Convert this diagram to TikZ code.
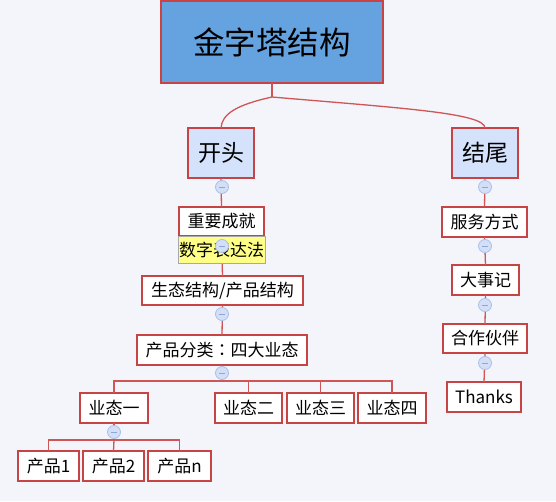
\documentclass[tikz,border=0pt]{standalone}
\usepackage{fontspec}
\setmainfont{Noto Sans CJK SC}
\newfontfamily\tcfont{Noto Sans CJK TC}
\begin{document}
\begin{tikzpicture}[x=1pt,y=-1pt,
  every node/.style={inner sep=0pt,outer sep=0pt},
  box/.style={draw=bordred,line width=1.4pt,fill=white,font=\fontsize{17}{20}\selectfont,text=black},
  lvone/.style={box,fill=lvfill,font=\fontsize{23}{26}\selectfont},
  rootbox/.style={box,fill=rootfill,font=\fontsize{31.5}{36}\selectfont},
  notebox/.style={draw=notegray,line width=1pt,fill=noteyellow,font=\fontsize{17}{20}\selectfont},
  conn/.style={draw=connred,line width=1.3pt},
  collapse/.style={circle,draw=colborder,fill=colfill,line width=0.8pt,minimum size=13pt},
  minus/.style={draw=colminus,line width=0.8pt}]
\definecolor{bgcol}{HTML}{F4F5FA}
\definecolor{bordred}{HTML}{C84444}
\definecolor{connred}{HTML}{D05555}
\definecolor{rootfill}{HTML}{64A2E0}
\definecolor{lvfill}{HTML}{D5E2FC}
\definecolor{notegray}{HTML}{A8A8A8}
\definecolor{noteyellow}{HTML}{FFFF88}
\definecolor{colborder}{HTML}{A9BFEB}
\definecolor{colfill}{HTML}{D3DFF7}
\definecolor{colminus}{HTML}{8FA6D6}
\useasboundingbox (0,0) rectangle (556,501);
\fill[bgcol] (0,0) rectangle (556,501);

% nodes
\node[rootbox,minimum width=222pt,minimum height=82pt] (root) at (272,42) {金字塔结构};
\node[lvone,minimum width=66pt,minimum height=50pt] (kt) at (221,153) {开头};
\node[lvone,minimum width=66pt,minimum height=50pt] (jw) at (485,153) {结尾};
\node[box,minimum width=85pt,minimum height=29pt] (zy) at (221.5,221.5) {重要成就};
\node[box,minimum width=161pt,minimum height=29pt] (st) at (222.5,290.5) {生态结构/产品结构};
\node[box,minimum width=170pt,minimum height=30pt] (fl) at (222,350) {产品分类{\tcfont ：}四大业态};
\node[box,minimum width=68pt,minimum height=30pt] (y1) at (114,408) {业态一};
\node[box,minimum width=67pt,minimum height=30pt] (y2) at (248.5,408) {业态二};
\node[box,minimum width=67pt,minimum height=30pt] (y3) at (320.5,408) {业态三};
\node[box,minimum width=68pt,minimum height=30pt] (y4) at (392,408) {业态四};
\node[box,minimum width=61pt,minimum height=30pt] (p1) at (48.5,466) {产品1};
\node[box,minimum width=61pt,minimum height=30pt] (p2) at (113.5,466) {产品2};
\node[box,minimum width=63pt,minimum height=30pt] (pn) at (179.5,466) {产品n};
\node[box,minimum width=85pt,minimum height=30pt] (fw) at (484.5,222) {服务方式};
\node[box,minimum width=67pt,minimum height=30pt] (ds) at (485.5,280) {大事记};
\node[box,minimum width=84pt,minimum height=29pt] (hz) at (485,338.5) {合作伙伴};
\node[box,minimum width=74pt,minimum height=30pt] (th) at (484,397) {Thanks};

% connectors
\coordinate (rj) at (272,97);
\coordinate (b1) at (222,381);
\coordinate (b2) at (114,440);
\draw[conn] (root.south) -- (rj);
\draw[conn] (rj) .. controls (236,105) and (222,114) .. (kt.north);
\draw[conn] (rj) .. controls (400,108) and (485,113) .. (jw.north);
\draw[conn] (kt.south) -- (zy.north);
\draw[conn] (zy.south) -- (st.north);
\draw[conn] (st.south) -- (fl.north);
\draw[conn] (fl.south) -- (b1);
\draw[conn] (b1) -| (y1.north);
\draw[conn] (b1) -| (y2.north);
\draw[conn] (b1) -| (y3.north);
\draw[conn] (b1) -| (y4.north);
\draw[conn] (y1.south) -- (b2);
\draw[conn] (b2) -| (p1.north);
\draw[conn] (b2) -- (p2.north);
\draw[conn] (b2) -| (pn.north);
\draw[conn] (jw.south) -- (fw.north);
\draw[conn] (fw.south) -- (ds.north);
\draw[conn] (ds.south) -- (hz.north);
\draw[conn] (hz.south) -- (th.north);

% note box over the connector
\node[notebox,minimum width=87pt,minimum height=27pt] (note) at (221.5,249.5) {数字表达法};

% collapse markers
\foreach \n/\x/\y in {c1/222/187,c2/222/246,c3/222/314,c4/222/373,c5/114/432,c6/485/187,c7/485/246,c8/485/305,c9/485/363}{
  \node[collapse] (\n) at (\x,\y) {};
  \draw[minus] ([xshift=-3pt]\n.center) -- ([xshift=3pt]\n.center);
}
\end{tikzpicture}
\end{document}
